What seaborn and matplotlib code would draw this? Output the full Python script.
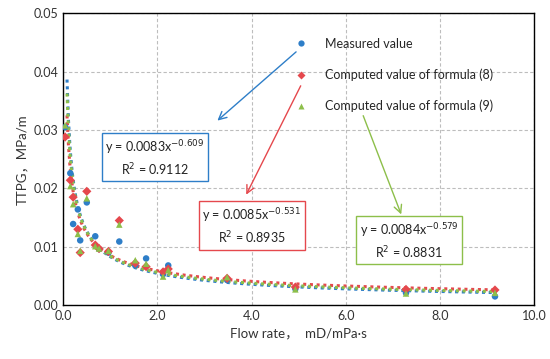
import numpy as np
import pandas as pd
import seaborn as sns
import matplotlib.pyplot as plt

# flow rate (mD/mPa·s)
flow = [0.04, 0.15, 0.21, 0.31, 0.36, 0.50, 0.68, 0.76, 0.96, 1.19,
        1.53, 1.76, 2.12, 2.23, 3.48, 4.93, 7.28, 9.17]
# TTPG (MPa/m)
measured = [0.0305, 0.0226, 0.0139, 0.0164, 0.0111, 0.0176, 0.0118, 0.0096, 0.0090, 0.0109,
            0.0068, 0.0080, 0.0053, 0.0068, 0.0043, 0.0028, 0.0021, 0.0015]
formula8 = [0.0288, 0.0214, 0.0185, 0.0130, 0.0090, 0.0195, 0.0103, 0.0097, 0.0092, 0.0145,
            0.0072, 0.0066, 0.0057, 0.0062, 0.0046, 0.0031, 0.0027, 0.0026]
formula9 = [0.0308, 0.0204, 0.0173, 0.0122, 0.0093, 0.0183, 0.0101, 0.0097, 0.0093, 0.0138,
            0.0077, 0.0071, 0.0049, 0.0060, 0.0048, 0.0027, 0.0020, 0.0021]

series = ["Measured value", "Computed value of formula (8)", "Computed value of formula (9)"]
# power trendlines y = a * x^(-b)
coef_a = [0.0083, 0.0085, 0.0084]
coef_b = [0.609, 0.531, 0.579]
r2 = [0.9112, 0.8935, 0.8831]

colors = ["#2E7EC8", "#E5484D", "#8DBF4A"]

df = pd.DataFrame({
    "flow": flow * 3,
    "ttpg": measured + formula8 + formula9,
    "kind": [series[0]] * len(flow) + [series[1]] * len(flow) + [series[2]] * len(flow),
})

sns.set_style("white")
plt.rcParams["font.family"] = ["Lato", "Noto Sans CJK SC", "DejaVu Sans"]

fig, ax = plt.subplots(figsize=(5.5, 3.59), dpi=100)
fig.subplots_adjust(left=0.115, right=0.971, top=0.963, bottom=0.15)

# trendlines first so markers sit on top
xs = np.linspace(0.08, 9.2, 300)
for a, b, c in zip(coef_a, coef_b, colors):
    ax.plot(xs, a * xs ** (-b), linestyle=(0, (1, 1.2)), linewidth=2.2, color=c, zorder=1)

sns.scatterplot(data=df, x="flow", y="ttpg", hue="kind", style="kind",
                palette=dict(zip(series, colors)),
                markers=dict(zip(series, ["o", "D", "^"])),
                s=22, edgecolor="none", ax=ax, zorder=3)

ax.set_xlim(0, 10)
ax.set_ylim(0, 0.05)
ax.set_xticks(np.arange(0, 10.1, 2))
ax.set_yticks(np.arange(0, 0.051, 0.01))
ax.set_xticklabels([f"{v:.1f}" for v in np.arange(0, 10.1, 2)])
ax.set_yticklabels([f"{v:.2f}" for v in np.arange(0, 0.051, 0.01)])
ax.tick_params(direction="in", length=4, labelsize=9, colors="#333333")
ax.grid(True, linestyle=(0, (3, 2)), color="#BDBDBD", linewidth=0.8)
ax.set_axisbelow(True)
for sp in ax.spines.values():
    sp.set_color("black")
    sp.set_linewidth(1)

ax.set_xlabel("Flow rate，  mD/mPa·s", fontsize=9.5, color="#333333")
ax.set_ylabel("TTPG，MPa/m", fontsize=9.5, color="#333333")

leg = ax.legend(loc="upper left", bbox_to_anchor=(0.455, 0.955), frameon=False,
                fontsize=9, handletextpad=0.9, labelspacing=1.5, title=None)
# legend markers are small in the original
for h in leg.legend_handles:
    h.set_markersize(4.5)

# equation boxes with arrows
boxes = [((1.95, 0.0252), (4.99, 0.0437), (3.23, 0.0313)),
         ((4.01, 0.0135), (5.07, 0.0380), (3.86, 0.0185)),
         ((7.35, 0.0110), (6.35, 0.0329), (7.20, 0.0151))]
for (pos, start, tip), a, b, r, c in zip(boxes, coef_a, coef_b, r2, colors):
    ax.annotate("", xy=tip, xytext=start,
                arrowprops=dict(arrowstyle="->", color=c, lw=1, mutation_scale=14))
    txt = f"y = {a}x$^{{-{b}}}$\nR$^2$ = {r}"
    ax.text(pos[0], pos[1], txt, ha="center", va="center", fontsize=9,
            linespacing=1.3, color="#222222",
            bbox=dict(boxstyle="square,pad=0.3", fc="white", ec=c, lw=1))

fig.savefig("out.png", dpi=100)
